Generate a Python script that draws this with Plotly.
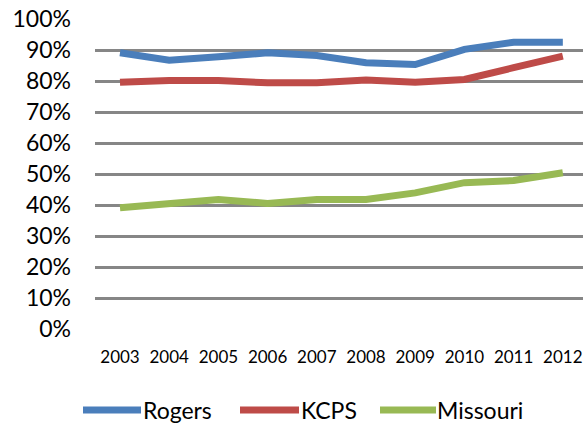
import plotly.graph_objects as go

years = ["2003", "2004", "2005", "2006", "2007", "2008", "2009", "2010", "2011", "2012"]
rogers = [0.891, 0.867, 0.878, 0.891, 0.882, 0.859, 0.853, 0.902, 0.925, 0.925]
kcps = [0.796, 0.802, 0.802, 0.794, 0.794, 0.803, 0.796, 0.805, 0.843, 0.880]
missouri = [0.391, 0.405, 0.418, 0.405, 0.418, 0.418, 0.439, 0.472, 0.479, 0.504]

series = [("Rogers", rogers, "#4a7ebb"), ("KCPS", kcps, "#be4b48"), ("Missouri", missouri, "#98b954")]
yticks = [i / 10 for i in range(11)]
yticktext = [f"{i*10}%" for i in range(11)]

FONT = "Lato, Carlito, Calibri, sans-serif"
W, H = 583, 424
ML, MR, MT, MB = 95, 0, 19, 95
PW, PH = W - ML - MR, H - MT - MB

fig = go.Figure()
for name, vals, col in series:
    fig.add_trace(go.Scatter(x=years, y=vals, mode="lines", name=name,
                             line=dict(color=col, width=7), showlegend=False))

# manual legend (Excel style long line samples)
def px2x(p):
    return (p - ML) / PW

def py2y(p):
    return (MT + PH - p) / PH

legend_items = [("Rogers", "#4a7ebb", 83, 141, 141), ("KCPS", "#be4b48", 240, 299, 299),
                ("Missouri", "#98b954", 380, 436, 435)]
ly = 410
for name, col, x0, x1, tx in legend_items:
    fig.add_shape(type="line", xref="paper", yref="paper", x0=px2x(x0), x1=px2x(x1),
                  y0=py2y(ly), y1=py2y(ly), line=dict(color=col, width=7))
    fig.add_annotation(xref="paper", yref="paper", x=px2x(tx), y=py2y(ly), text=name,
                       showarrow=False, xanchor="left", yanchor="middle",
                       font=dict(family=FONT, size=23, color="#000000"))

fig.update_layout(
    width=W, height=H,
    margin=dict(l=ML, r=MR, t=MT, b=MB, pad=0),
    paper_bgcolor="white", plot_bgcolor="white",
    font=dict(family=FONT, color="#000000"),
    xaxis=dict(type="category", range=[-0.508, 9.41], showgrid=False, showline=False,
               zeroline=False, ticks="", tickfont=dict(size=17), ticklabelstandoff=16),
    yaxis=dict(range=[0, 1], tickvals=yticks, ticktext=yticktext, showgrid=True,
               gridcolor="#868686", gridwidth=3, zeroline=False, showline=False,
               ticks="", tickfont=dict(size=23), ticklabelstandoff=23),
)

fig.write_html("out.html", config={"displayModeBar": False},
               post_script="document.body.style.margin='0';document.body.style.overflow='hidden';")
